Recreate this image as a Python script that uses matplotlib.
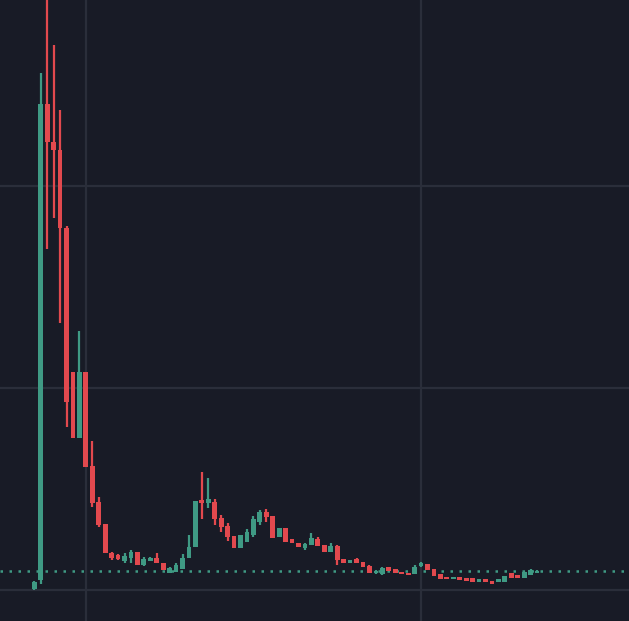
import matplotlib
matplotlib.use("Agg")
import matplotlib.pyplot as plt
import numpy as np

# OHLC series (price units)
opens = [1.005, 1.050, 3.406, 3.218, 3.178, 2.792, 2.079, 1.752, 2.079, 1.614,
         1.436, 1.327, 1.183, 1.173, 1.144, 1.158, 1.188, 1.124, 1.144, 1.158,
         1.134, 1.084, 1.089, 1.104, 1.158, 1.213, 1.446, 1.431, 1.436, 1.356,
         1.317, 1.267, 1.208, 1.238, 1.272, 1.337, 1.386, 1.366, 1.262, 1.307,
         1.253, 1.233, 1.208, 1.223, 1.253, 1.223, 1.188, 1.218, 1.153, 1.134,
         1.153, 1.139, 1.119, 1.084, 1.079, 1.114, 1.104, 1.089, 1.084, 1.079,
         1.119, 1.129, 1.104, 1.079, 1.064, 1.054, 1.064, 1.059, 1.059, 1.041,
         1.054, 1.045, 1.038, 1.041, 1.083, 1.074, 1.061, 1.074, 1.084]
closes = [1.040, 3.406, 3.218, 3.178, 2.792, 1.931, 1.752, 2.079, 1.609, 1.431,
          1.322, 1.183, 1.158, 1.153, 1.168, 1.188, 1.124, 1.153, 1.158, 1.134,
          1.099, 1.109, 1.124, 1.158, 1.213, 1.441, 1.431, 1.450, 1.351, 1.312,
          1.262, 1.208, 1.272, 1.287, 1.351, 1.386, 1.361, 1.257, 1.307, 1.238,
          1.233, 1.213, 1.228, 1.257, 1.218, 1.188, 1.218, 1.149, 1.134, 1.149,
          1.134, 1.114, 1.084, 1.096, 1.109, 1.094, 1.086, 1.079, 1.074, 1.114,
          1.134, 1.099, 1.069, 1.054, 1.054, 1.064, 1.050, 1.045, 1.041, 1.054,
          1.041, 1.030, 1.054, 1.071, 1.061, 1.061, 1.088, 1.099, 1.092]
highs = [1.045, 3.559, 4.020, 3.698, 3.376, 2.802, 2.079, 2.282, 2.079, 1.738,
         1.460, 1.327, 1.188, 1.178, 1.183, 1.198, 1.188, 1.163, 1.163, 1.183,
         1.134, 1.114, 1.134, 1.178, 1.272, 1.441, 1.584, 1.554, 1.450, 1.371,
         1.332, 1.267, 1.272, 1.302, 1.366, 1.396, 1.401, 1.366, 1.307, 1.307,
         1.253, 1.233, 1.233, 1.282, 1.262, 1.223, 1.233, 1.223, 1.153, 1.149,
         1.158, 1.139, 1.124, 1.099, 1.114, 1.114, 1.104, 1.089, 1.084, 1.124,
         1.139, 1.129, 1.104, 1.079, 1.064, 1.064, 1.064, 1.059, 1.059, 1.054,
         1.054, 1.045, 1.054, 1.071, 1.083, 1.074, 1.092, 1.104, 1.099]
lows = [1.000, 1.030, 2.688, 2.842, 2.322, 1.807, 1.752, 1.752, 1.609, 1.411,
        1.312, 1.183, 1.149, 1.149, 1.134, 1.134, 1.124, 1.119, 1.144, 1.134,
        1.099, 1.084, 1.089, 1.104, 1.158, 1.213, 1.351, 1.406, 1.322, 1.287,
        1.243, 1.208, 1.208, 1.238, 1.262, 1.322, 1.337, 1.257, 1.262, 1.238,
        1.233, 1.213, 1.198, 1.223, 1.218, 1.188, 1.188, 1.124, 1.134, 1.134,
        1.134, 1.114, 1.084, 1.079, 1.074, 1.094, 1.084, 1.079, 1.074, 1.079,
        1.114, 1.099, 1.069, 1.054, 1.054, 1.054, 1.050, 1.045, 1.041, 1.041,
        1.041, 1.030, 1.038, 1.041, 1.061, 1.061, 1.061, 1.074, 1.084]
grid_prices = [1.0, 2.0, 3.0]
grid_bars = [8, 60]
last_price = closes[-1]

UP = "#3f9a84"
DOWN = "#e2494e"
BG = "#181b26"
GRID = "#2a2e3a"

fig = plt.figure(figsize=(6.29, 6.21), dpi=100)
fig.patch.set_facecolor(BG)
ax = fig.add_axes([0, 0, 1, 1])
ax.set_facecolor(BG)

n = len(opens)
x = np.arange(n)
o = np.array(opens); c = np.array(closes); h = np.array(highs); l = np.array(lows)
up = c >= o
colors = np.where(up, UP, DOWN)

for gp in grid_prices:
    ax.axhline(gp, color=GRID, lw=1.6, zorder=0)
for gb in grid_bars:
    ax.axvline(gb, color=GRID, lw=1.6, zorder=0)

ax.vlines(x, l, h, colors=colors, lw=1.6, zorder=2)
bottoms = np.minimum(o, c)
heights = np.maximum(np.abs(c - o), 0.008)
ax.bar(x, heights, bottom=bottoms, width=0.74, color=colors, lw=0, zorder=3)

ax.axhline(last_price, color=UP, lw=1.8, linestyle=(0, (1, 2.6)), zorder=1)

ax.set_xlim(-5.32, 92.27)
ax.set_ylim(0.8465, 3.921)
ax.set_xticks([]); ax.set_yticks([])
for s in ax.spines.values():
    s.set_visible(False)

fig.savefig("out.png", dpi=100, facecolor=BG)
